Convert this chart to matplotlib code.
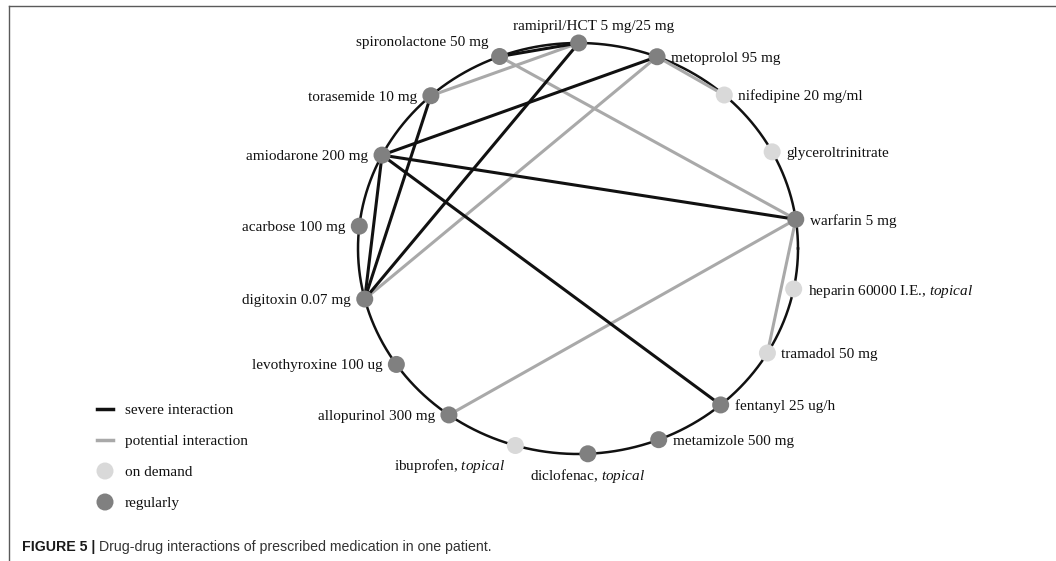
import numpy as np
import matplotlib
matplotlib.use('Agg')
from matplotlib import pyplot as plt

# drugs placed clockwise around the circle, starting at the top
drug_ids = ['ramipril', 'metoprolol', 'nifedipine', 'glyceroltrinitrate',
            'warfarin', 'heparin', 'tramadol', 'fentanyl', 'metamizole',
            'diclofenac', 'ibuprofen', 'allopurinol', 'levothyroxine',
            'digitoxin', 'acarbose', 'amiodarone', 'torasemide',
            'spironolactone']
drug_labels = ['ramipril/HCT 5 mg/25 mg', 'metoprolol 95 mg',
               'nifedipine 20 mg/ml', 'glyceroltrinitrate', 'warfarin 5 mg',
               'heparin 60000 I.E., $\\mathit{topical}$', 'tramadol 50 mg',
               'fentanyl 25 ug/h', 'metamizole 500 mg',
               'diclofenac, $\\mathit{topical}$',
               'ibuprofen, $\\mathit{topical}$', 'allopurinol 300 mg',
               'levothyroxine 100 ug', 'digitoxin 0.07 mg', 'acarbose 100 mg',
               'amiodarone 200 mg', 'torasemide 10 mg', 'spironolactone 50 mg']
intake = ['regularly', 'regularly', 'on demand', 'on demand', 'regularly',
          'on demand', 'on demand', 'regularly', 'regularly', 'regularly',
          'on demand', 'regularly', 'regularly', 'regularly', 'regularly',
          'regularly', 'regularly', 'regularly']

severe = [('spironolactone', 'ramipril'), ('ramipril', 'digitoxin'),
          ('metoprolol', 'amiodarone'), ('amiodarone', 'warfarin'),
          ('amiodarone', 'fentanyl'), ('amiodarone', 'digitoxin'),
          ('torasemide', 'digitoxin')]
potential = [('torasemide', 'ramipril'), ('spironolactone', 'warfarin'),
             ('metoprolol', 'nifedipine'), ('metoprolol', 'digitoxin'),
             ('warfarin', 'allopurinol'), ('warfarin', 'tramadol')]

# label placement around each node
placement = ['above', 'right', 'right', 'right', 'right', 'right', 'right',
             'right', 'right', 'below', 'downleft', 'left', 'left', 'left',
             'left', 'left', 'left', 'upleft']
offsets = {'right': (14, 0, 'left'), 'left': (-14, 0, 'right'),
           'above': (15, -18, 'center'), 'below': (0, 20, 'center'),
           'upleft': (-11, -15, 'right'), 'downleft': (-10, 18, 'right')}

plt.rcParams['font.family'] = ['Liberation Serif', 'DejaVu Serif']
plt.rcParams['mathtext.fontset'] = 'custom'
plt.rcParams['mathtext.rm'] = 'Liberation Serif'
plt.rcParams['mathtext.it'] = 'Liberation Serif:italic'

BLACK = '#111111'
LIGHT = '#a9a9a9'
REG = '#808080'
DEMAND = '#d9d9d9'
TXT = '#111111'

W, H = 1056, 561
fig = plt.figure(figsize=(W/100, H/100), dpi=100)
ax = fig.add_axes([0, 0, 1, 1])
ax.set_xlim(0, W)
ax.set_ylim(H, 0)
ax.axis('off')

# frame (top and left edges)
ax.plot([9, W], [6, 6], color='#5a5a5a', lw=1.0)
ax.plot([9, 9], [6, H], color='#5a5a5a', lw=1.0)

# circle layout (pixel units, y down)
cx, cy, rx, ry = 578, 248.5, 220, 205.5
t = np.linspace(0, 2*np.pi, 400)
ax.plot(cx + rx*np.cos(t), cy - ry*np.sin(t), color=BLACK, lw=1.8, zorder=1)

# nodes at equal angular steps seen from a point slightly off the centre
n = len(drug_ids)
px, py = 0.025, -0.049
phi = np.deg2rad(91.2 - 360.0/n*np.arange(n))
ux, uy = np.cos(phi), np.sin(phi)
pu = px*ux + py*uy
s = -pu + np.sqrt(pu**2 - (px**2 + py**2 - 1))
xs = cx + rx*(px + s*ux)
ys = cy - ry*(py + s*uy)
pos = {d: (xs[i], ys[i]) for i, d in enumerate(drug_ids)}

for a, b in potential:
    ax.plot([pos[a][0], pos[b][0]], [pos[a][1], pos[b][1]],
            color=LIGHT, lw=2.2, zorder=2, solid_capstyle='round')
for a, b in severe:
    ax.plot([pos[a][0], pos[b][0]], [pos[a][1], pos[b][1]],
            color=BLACK, lw=2.2, zorder=3, solid_capstyle='round')

cols = [REG if k == 'regularly' else DEMAND for k in intake]
ax.scatter(xs, ys, s=150, c=cols, edgecolors='none', zorder=4)

for i, lab in enumerate(drug_labels):
    dx, dy, ha = offsets[placement[i]]
    ax.text(xs[i] + dx, ys[i] + dy, lab, ha=ha, va='center_baseline',
            fontsize=11, color=TXT)

# legend
ax.plot([97, 113], [409, 409], color=BLACK, lw=2.5)
ax.plot([97, 113], [440, 440], color=LIGHT, lw=2.5)
ax.scatter([105], [471], s=150, c=DEMAND, edgecolors='none')
ax.scatter([105], [502], s=150, c=REG, edgecolors='none')
for y, txt in zip([409, 440, 471, 502],
                  ['severe interaction', 'potential interaction',
                   'on demand', 'regularly']):
    ax.text(125, y, txt, ha='left', va='center_baseline', fontsize=11,
            color=TXT)

# caption
cap_y = 1 - 547/H
t1 = fig.text(22/W, cap_y, 'FIGURE 5 |', family='Liberation Sans',
              weight='bold', fontsize=10.2, va='center', color='#1a1a1a')
fig.canvas.draw()
bb = t1.get_window_extent(fig.canvas.get_renderer())
fig.text((bb.x1 + 4)/W, cap_y,
         'Drug-drug interactions of prescribed medication in one patient.',
         family='Liberation Sans', fontsize=10.2, va='center',
         color='#333333')

fig.savefig('out.png', dpi=100)
